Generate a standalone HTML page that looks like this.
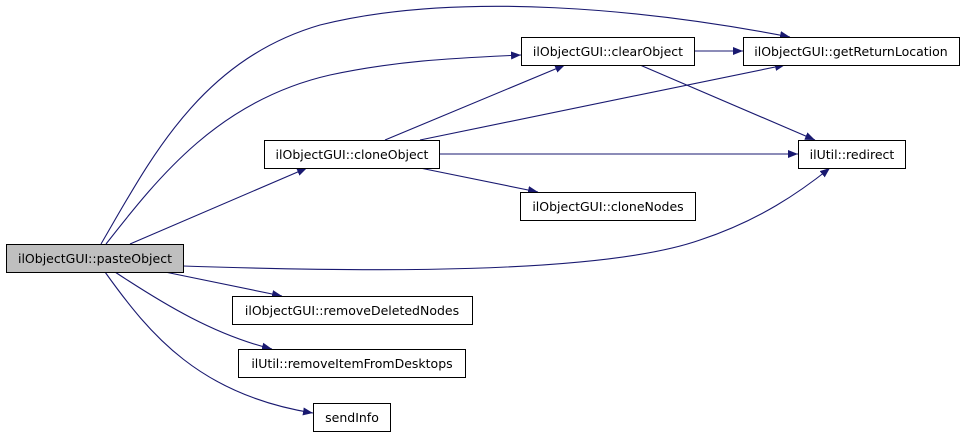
<!DOCTYPE html>
<html><head><meta charset="utf-8"><style>
html,body{margin:0;padding:0;background:#fff;}
svg text{font-family:"DejaVu Sans","Liberation Sans",sans-serif;font-size:12.5px;fill:#000;}
</style></head><body>
<svg width="965" height="437" viewBox="0 0 965 437" xmlns="http://www.w3.org/2000/svg">
<defs>
<marker id="a" markerWidth="10" markerHeight="8" refX="10" refY="4" orient="auto" markerUnits="userSpaceOnUse">
<path d="M0,0 L10,4 L0,8 Z" fill="#191970"/>
</marker>
</defs>
<g fill="none" stroke="#191970" stroke-width="1.1" marker-end="url(#a)">
<path d="M101,244 C150,160 200,60 320,25 C460,-10 650,10 790,37"/>
<path d="M106,244 C160,175 220,100 330,75 C400,60 460,58 521,55"/>
<path d="M130,244 L307,168"/>
<path d="M183,266 C360,272 600,275 700,240 C760,220 800,192 830,168"/>
<path d="M165,272 L282,296"/>
<path d="M115,272 C165,305 215,335 272,349"/>
<path d="M105,272 C150,335 200,395 313,413"/>
<path d="M385,140 L565,65"/>
<path d="M420,140 L785,65"/>
<path d="M439,154 L798,154"/>
<path d="M420,168 L538,192"/>
<path d="M694,51 L743,51"/>
<path d="M640,65 L815,140"/>
</g>
<g stroke="#000" stroke-width="1">
<rect x="6.5" y="244.5" width="177" height="28" fill="#bfbfbf"/>
<rect x="264.5" y="140.5" width="175" height="28" fill="#fff"/>
<rect x="521.5" y="37.5" width="173" height="28" fill="#fff"/>
<rect x="743.5" y="37.5" width="216" height="28" fill="#fff"/>
<rect x="798.5" y="140.5" width="107" height="28" fill="#fff"/>
<rect x="520.5" y="192.5" width="175" height="28" fill="#fff"/>
<rect x="232.5" y="296.5" width="240" height="28" fill="#fff"/>
<rect x="238.5" y="349.5" width="227" height="28" fill="#fff"/>
<rect x="313.5" y="403.5" width="77" height="28" fill="#fff"/>
</g>
<g text-anchor="middle">
<text x="95" y="263">ilObjectGUI::pasteObject</text>
<text x="352" y="159">ilObjectGUI::cloneObject</text>
<text x="608" y="56">ilObjectGUI::clearObject</text>
<text x="851" y="56">ilObjectGUI::getReturnLocation</text>
<text x="852" y="159">ilUtil::redirect</text>
<text x="608" y="211">ilObjectGUI::cloneNodes</text>
<text x="352" y="315">ilObjectGUI::removeDeletedNodes</text>
<text x="352" y="368">ilUtil::removeItemFromDesktops</text>
<text x="352" y="422">sendInfo</text>
</g>
</svg>
</body></html>
